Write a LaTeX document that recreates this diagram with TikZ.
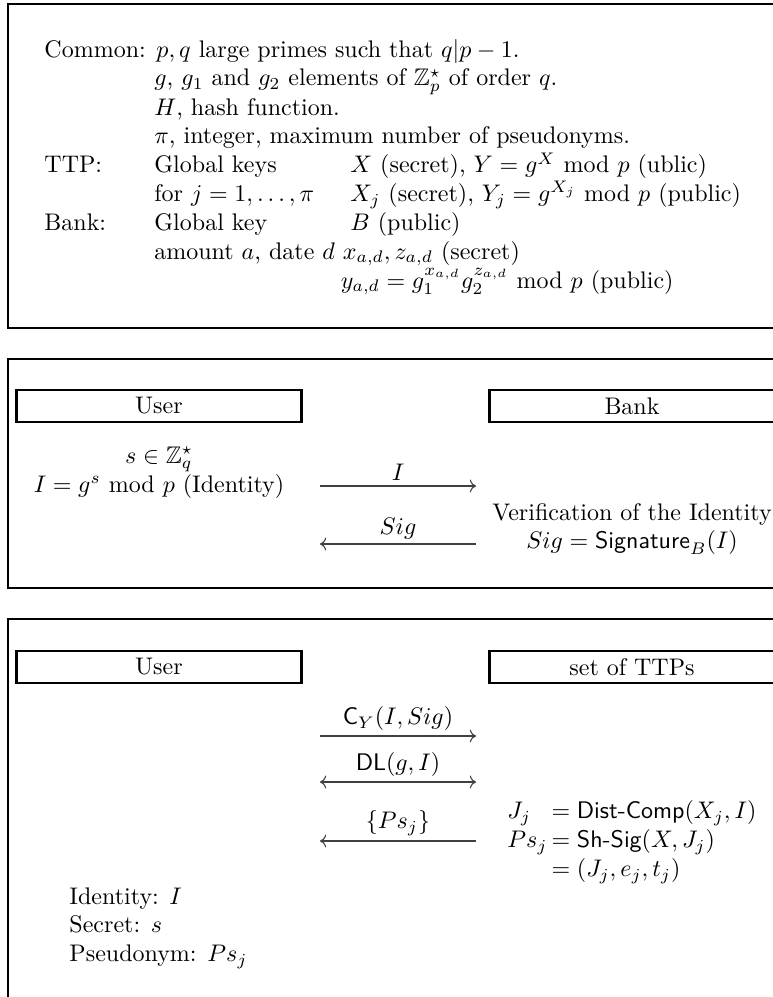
\documentclass[tikz,border=0pt]{standalone}
\usepackage{amssymb}
\usetikzlibrary{arrows.meta}
\tikzset{
  frame/.style={draw=black, line width=1.1pt},
  party/.style={draw=black, line width=1.1pt, minimum width=119pt, minimum height=13.4pt, inner sep=0pt},
  block/.style={anchor=base west, inner sep=0pt},
  mid/.style={anchor=base, inner sep=0pt},
  msg/.style={-{Computer Modern Rightarrow}, draw=black!75, line width=0.45pt},
  twoway/.style={{Computer Modern Rightarrow}-{Computer Modern Rightarrow}, draw=black!75, line width=0.45pt},
  lbl/.style={above, inner sep=2pt, text=black},
}
\newcommand{\spanto}[2]{\multicolumn{#1}{@{}l@{}}{#2}}

\begin{document}
\begin{tikzpicture}[x=0.41667pt, y=-0.41667pt]
  \clip (0,0) rectangle (773,997);
  % Setup: public parameters and keys
  \draw[frame] (8,4) rectangle (800,328);
  \node[block] (setup) at (44,57) {\begin{tabular}[t]{@{}p{45.8pt}@{}p{81.7pt}@{}l@{}}
    \spanto{3}{Common: $p,q$ large primes such that $q|p-1$.}\\
    & \spanto{2}{$g$, $g_1$ and $g_2$ elements of $\mathbb{Z}_p^\star$ of order $q$.}\\
    & \spanto{2}{$H$, hash function.}\\
    & \spanto{2}{$\pi$, integer, maximum number of pseudonyms.}\\
    TTP: & Global keys & $X$ (secret), $Y=g^X\ \mathrm{mod}\ p$ (ublic)\\
    & for $j=1,\ldots,\pi$ & $X_j$ (secret), $Y_j=g^{X_j}\ \mathrm{mod}\ p$ (public)\\
    Bank: & Global key & $B$ (public)\\
    & \spanto{2}{amount $a$, date $d$ $x_{a,d}, z_{a,d}$ (secret)}\\
    & & \hspace{-4pt}$y_{a,d}=g_1^{x_{a,d}}g_2^{z_{a,d}}\ \mathrm{mod}\ p$ (public)
  \end{tabular}};

  % Registration with the bank
  \draw[frame] (8,359) rectangle (800,588);
  \node[party] (user) at (159,406) {User};
  \node[party] (bank) at (632,406) {Bank};
  \node[mid] (userside) at (159,463) {\begin{tabular}[t]{@{}c@{}}
    $s\in\mathbb{Z}_q^\star$\\
    $I=g^s\ \mathrm{mod}\ p$ (Identity)
  \end{tabular}};
  \node[mid] (bankside) at (632,520) {\begin{tabular}[t]{@{}c@{}}
    Verification of the Identity\\
    $Sig=\textsf{Signature}_B(I)$
  \end{tabular}};
  \coordinate (iL) at (320,486);
  \coordinate (iR) at (476,486);
  \coordinate (sL) at (320,544);
  \coordinate (sR) at (476,544);
  \draw[msg] (iL) -- node[lbl] {$I$} (iR);
  \draw[msg] (sR) -- node[lbl] {$Sig$} (sL);

  % Pseudonym issue by the TTPs
  \draw[frame] (8,619) rectangle (800,1010);
  \node[party] (user3) at (159,667) {User};
  \node[party] (ttps) at (632,667) {set of TTPs};
  \coordinate (cL) at (320,736);
  \coordinate (cR) at (476,736);
  \coordinate (dL) at (320,782);
  \coordinate (dR) at (476,782);
  \coordinate (pL) at (320,841);
  \coordinate (pR) at (476,841);
  \draw[msg] (cL) -- node[lbl] {$\textsf{C}_Y(I,Sig)$} (cR);
  \draw[twoway] (dL) -- node[lbl] {$\textsf{DL}(g,I)$} (dR);
  \draw[msg] (pR) -- node[lbl] {$\{Ps_j\}$} (pL);
  \node[anchor=west, inner sep=0pt] (issue) at (507,842)
    {$\begin{array}{@{}l@{\,}l@{}}
      J_j & =\textsf{Dist-Comp}(X_j,I)\\
      Ps_j & =\textsf{Sh-Sig}(X,J_j)\\
           & =(J_j,e_j,t_j)
    \end{array}$};
  \node[block] (wallet) at (69,904) {\begin{tabular}[t]{@{}l@{}}
    Identity: $I$\\
    Secret: $s$\\
    Pseudonym: $Ps_j$
  \end{tabular}};
\end{tikzpicture}
\end{document}
